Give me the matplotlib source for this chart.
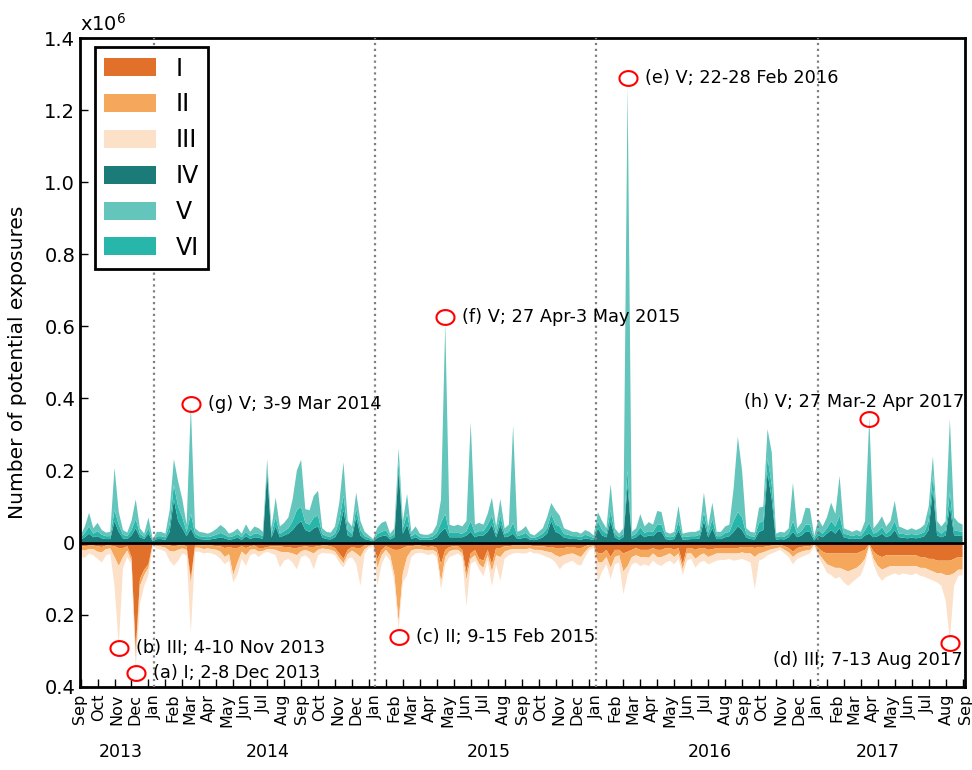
import numpy as np
import pandas as pd
import matplotlib
matplotlib.use("Agg")
import matplotlib.pyplot as plt
import matplotlib.transforms as mtransforms
from matplotlib.patches import Patch
from matplotlib.path import Path

# =========== Data (weekly, in thousands of exposures) ===========
start = "2013-09-02"
n_weeks = 209

# upper side: IV (bottom), VI, V (top)
cat_IV = [8, 15, 25, 15, 18, 12, 10, 10, 60, 30,
          12, 10, 20, 40, 15, 10, 25, 4, 10, 10,
          8, 30, 120, 60, 40, 18, 40, 15, 10, 9,
          8, 10, 12, 15, 12, 8, 10, 14, 8, 18,
          10, 15, 14, 10, 195, 14, 45, 15, 20, 25,
          35, 50, 60, 35, 30, 40, 45, 14, 10, 9,
          15, 35, 90, 20, 15, 70, 20, 10, 7, 4,
          14, 18, 20, 9, 15, 200, 25, 50, 10, 15,
          8, 8, 8, 9, 15, 30, 40, 15, 15, 15,
          15, 20, 30, 15, 20, 20, 30, 50, 15, 50,
          15, 18, 25, 10, 12, 15, 8, 7, 10, 15,
          25, 60, 30, 25, 14, 12, 10, 10, 8, 12,
          10, 7, 40, 20, 15, 60, 15, 8, 15, 160,
          10, 15, 25, 15, 20, 18, 30, 30, 10, 8,
          10, 35, 8, 9, 10, 10, 12, 60, 15, 40,
          10, 10, 15, 18, 30, 45, 35, 14, 10, 9,
          30, 35, 195, 120, 8, 10, 9, 15, 30, 15,
          20, 30, 30, 6, 20, 15, 25, 35, 25, 40,
          15, 12, 10, 12, 10, 20, 25, 15, 18, 25,
          15, 20, 35, 15, 14, 12, 14, 12, 14, 18,
          35, 148, 20, 15, 20, 100, 20, 20, 18]

cat_VI = [6, 12, 20, 10, 14, 10, 8, 8, 30, 20,
          10, 8, 15, 25, 10, 6, 15, 3, 8, 8,
          7, 20, 40, 40, 30, 12, 40, 10, 8, 8,
          7, 8, 10, 12, 10, 7, 8, 10, 7, 12,
          8, 10, 10, 8, 15, 10, 25, 10, 12, 15,
          25, 40, 40, 20, 20, 30, 30, 10, 8, 8,
          10, 25, 40, 15, 10, 25, 15, 8, 6, 3,
          10, 12, 15, 6, 10, 25, 15, 30, 8, 10,
          7, 6, 6, 8, 12, 25, 40, 12, 12, 12,
          10, 12, 30, 12, 12, 12, 20, 25, 10, 25,
          10, 12, 30, 8, 10, 12, 7, 6, 8, 10,
          15, 20, 20, 20, 10, 10, 8, 8, 7, 10,
          8, 6, 20, 15, 10, 30, 10, 7, 10, 40,
          8, 10, 18, 12, 12, 12, 20, 20, 8, 7,
          8, 25, 7, 8, 8, 8, 10, 25, 12, 25,
          8, 8, 12, 12, 30, 40, 35, 10, 8, 8,
          25, 25, 40, 40, 7, 8, 8, 10, 30, 10,
          12, 20, 20, 6, 15, 10, 15, 25, 20, 35,
          10, 10, 8, 10, 8, 15, 30, 10, 12, 18,
          10, 15, 25, 10, 10, 10, 10, 10, 10, 12,
          25, 40, 15, 10, 15, 40, 15, 12, 12]

cat_V = [6, 18, 38, 15, 23, 13, 10, 12, 118, 35,
         13, 10, 25, 55, 15, 9, 30, 3, 12, 12,
         10, 40, 72, 70, 50, 20, 300, 15, 12, 11,
         10, 12, 16, 22, 18, 10, 12, 15, 10, 21,
         12, 20, 16, 12, 22, 16, 55, 20, 23, 30,
         60, 110, 130, 38, 40, 60, 69, 16, 12, 11,
         20, 50, 93, 25, 20, 44, 25, 12, 7, 3,
         18, 25, 25, 10, 15, 37, 20, 55, 12, 20,
         10, 8, 8, 11, 23, 65, 530, 23, 19, 23,
         20, 28, 274, 23, 23, 18, 30, 50, 20, 46,
         15, 20, 270, 12, 13, 19, 10, 7, 12, 15,
         30, 30, 40, 30, 16, 13, 12, 12, 10, 13,
         12, 7, 25, 25, 15, 72, 15, 10, 15, 1070,
         12, 15, 36, 18, 25, 20, 38, 35, 12, 10,
         12, 42, 10, 11, 12, 12, 13, 54, 18, 46,
         12, 12, 18, 20, 90, 209, 130, 16, 12, 11,
         42, 40, 80, 90, 10, 12, 11, 15, 106, 15,
         23, 47, 45, 7, 30, 20, 30, 51, 35, 110,
         15, 13, 12, 13, 12, 25, 292, 15, 24, 30,
         20, 25, 56, 20, 16, 13, 16, 13, 16, 20,
         40, 52, 25, 20, 25, 203, 35, 24, 20]

# lower side: I (next to zero), II, III (outermost)
cat_I = [10, 10, 8, 8, 10, 12, 8, 8, 10, 15,
         15, 10, 40, 300, 100, 75, 60, 3, 5, 5,
         6, 8, 10, 8, 6, 10, 100, 6, 6, 8,
         8, 8, 10, 10, 15, 12, 15, 15, 10, 15,
         10, 8, 15, 15, 12, 10, 10, 10, 12, 12,
         15, 15, 12, 10, 12, 12, 10, 8, 8, 10,
         15, 30, 45, 20, 12, 15, 15, 8, 5, 3,
         46, 20, 10, 15, 20, 20, 15, 10, 10, 8,
         8, 10, 12, 10, 15, 60, 20, 12, 10, 10,
         20, 83, 30, 20, 45, 50, 20, 60, 15, 15,
         10, 10, 8, 8, 8, 8, 8, 10, 10, 10,
         12, 12, 15, 15, 15, 12, 12, 15, 15, 10,
         6, 5, 30, 30, 20, 40, 20, 20, 30, 25,
         20, 15, 20, 20, 20, 15, 20, 20, 15, 15,
         20, 15, 60, 15, 15, 20, 15, 15, 20, 18,
         15, 15, 15, 15, 15, 15, 12, 12, 12, 15,
         12, 12, 10, 8, 8, 6, 10, 15, 25, 15,
         12, 10, 10, 3, 15, 25, 30, 30, 30, 30,
         30, 30, 30, 30, 25, 20, 4, 25, 35, 40,
         35, 35, 35, 35, 35, 35, 35, 35, 40, 40,
         45, 45, 50, 50, 50, 50, 45, 40, 40]

cat_II = [10, 12, 10, 10, 15, 15, 10, 8, 30, 50,
          25, 12, 10, 25, 20, 15, 10, 3, 5, 6,
          8, 15, 15, 12, 10, 10, 15, 8, 8, 10,
          8, 10, 10, 15, 25, 20, 75, 40, 15, 20,
          10, 10, 10, 8, 6, 8, 10, 15, 15, 15,
          15, 20, 12, 10, 13, 18, 10, 8, 10, 10,
          10, 12, 12, 12, 10, 15, 25, 10, 5, 3,
          24, 15, 10, 20, 70, 200, 70, 30, 12, 10,
          10, 10, 10, 10, 12, 50, 20, 12, 10, 10,
          10, 20, 15, 15, 15, 20, 15, 20, 20, 25,
          15, 10, 10, 10, 10, 10, 8, 10, 10, 12,
          13, 15, 20, 25, 20, 20, 18, 20, 25, 15,
          7, 5, 25, 25, 20, 30, 20, 15, 50, 40,
          20, 20, 20, 20, 22, 15, 20, 20, 20, 15,
          20, 15, 15, 15, 15, 25, 20, 15, 20, 17,
          15, 15, 15, 15, 15, 15, 15, 18, 18, 25,
          18, 15, 12, 10, 8, 7, 10, 12, 15, 15,
          13, 12, 10, 3, 15, 20, 30, 35, 40, 40,
          45, 50, 45, 40, 35, 25, 3, 20, 30, 35,
          35, 30, 30, 30, 30, 30, 30, 30, 30, 30,
          30, 35, 35, 35, 40, 40, 40, 35, 35]

cat_III = [20, 20, 12, 17, 20, 28, 17, 14, 80, 220,
           30, 18, 10, 25, 50, 30, 20, 4, 8, 9,
           11, 27, 39, 30, 14, 15, 135, 11, 11, 12,
           12, 12, 15, 20, 20, 18, 20, 33, 20, 29,
           15, 12, 15, 7, 7, 12, 15, 44, 23, 18,
           25, 39, 16, 15, 20, 44, 15, 12, 12, 10,
           10, 13, 12, 13, 18, 30, 80, 12, 5, 4,
           50, 25, 15, 15, 20, 20, 25, 50, 18, 12,
           10, 10, 13, 10, 13, 20, 20, 16, 15, 10,
           10, 73, 15, 15, 14, 23, 15, 40, 25, 66,
           20, 15, 12, 10, 12, 12, 9, 10, 10, 13,
           15, 18, 20, 34, 25, 23, 20, 25, 24, 15,
           7, 5, 56, 25, 20, 31, 20, 20, 63, 25,
           20, 20, 25, 20, 23, 20, 20, 25, 20, 20,
           20, 15, 15, 20, 15, 24, 20, 20, 20, 20,
           20, 18, 18, 15, 20, 18, 18, 20, 25, 89,
           20, 18, 13, 12, 9, 7, 10, 13, 20, 15,
           15, 13, 10, 3, 10, 15, 23, 25, 30, 25,
           35, 40, 35, 30, 30, 15, 3, 15, 25, 31,
           25, 25, 20, 25, 20, 23, 25, 20, 22, 25,
           25, 25, 25, 35, 70, 180, 35, 17, 15]

legend_labels = ["I", "II", "III", "IV", "V", "VI"]
legend_colors = ["#e0702a", "#f5a85c", "#fde0c8", "#1b7b78", "#64c5bd", "#27b6a9"]

month_names = ["Jan", "Feb", "Mar", "Apr", "May", "Jun",
               "Jul", "Aug", "Sep", "Oct", "Nov", "Dec"]
years = ["2013", "2014", "2015", "2016", "2017"]
year_label_dates = ["2013-11-08", "2014-07-08", "2015-07-08", "2016-07-06", "2017-04-10"]

# peak annotations: (text, peak week start, value in 1e6, text x date, text y, align)
peaks = [
    ("(g) V; 3-9 Mar 2014", "2014-03-03", 0.385, "2014-03-31", 0.385, "left"),
    ("(f) V; 27 Apr-3 May 2015", "2015-04-27", 0.625, "2015-05-25", 0.625, "left"),
    ("(e) V; 22-28 Feb 2016", "2016-02-22", 1.29, "2016-03-21", 1.29, "left"),
    ("(h) V; 27 Mar-2 Apr 2017", "2017-03-27", 0.344, "2017-08-31", 0.39, "right"),
    ("(b) III; 4-10 Nov 2013", "2013-11-04", -0.292, "2013-12-02", -0.292, "left"),
    ("(a) I; 2-8 Dec 2013", "2013-12-02", -0.361, "2013-12-30", -0.361, "left"),
    ("(c) II; 9-15 Feb 2015", "2015-02-09", -0.261, "2015-03-09", -0.261, "left"),
    ("(d) III; 7-13 Aug 2017", "2017-08-07", -0.278, "2017-08-28", -0.325, "right"),
]

# =========== Plot ===========
plt.rcParams["font.family"] = ["DejaVu Sans"]

weeks = pd.date_range(start, periods=n_weeks, freq="7D")
upper = np.array([cat_IV, cat_VI, cat_V]) / 1000.0
lower = np.array([cat_I, cat_II, cat_III]) / 1000.0

fig = plt.figure(figsize=(9.72, 7.7), dpi=100)
ax = fig.add_axes([0.0823, 0.108, 0.9105, 0.8426])

ax.stackplot(weeks, upper, colors=[legend_colors[3], legend_colors[5], legend_colors[4]],
             linewidth=0, zorder=2)
ax.stackplot(weeks, -lower, colors=legend_colors[:3], linewidth=0, zorder=2)
ax.axhline(0, color="black", lw=2, zorder=4)

for yr in [2014, 2015, 2016, 2017]:
    ax.axvline(pd.Timestamp(f"{yr}-01-01"), color="#808080", ls=":", lw=1.6, zorder=3)

# slightly wide ellipse marker for the red rings
t = np.linspace(0, 2 * np.pi, 60)
ring = Path(np.column_stack([np.cos(t), 0.82 * np.sin(t)]))

for txt, d, val, tx, ty, ha in peaks:
    ax.plot(pd.Timestamp(d), val, marker=ring, ms=13, mfc="none", mec="red", mew=1.5,
            ls="none", zorder=5)
    ax.text(pd.Timestamp(tx), ty, txt, ha=ha, va="center", fontsize=12.8, zorder=6)

ax.set_xlim(pd.Timestamp("2013-09-01"), pd.Timestamp("2017-09-01"))
ax.set_ylim(-0.4, 1.4)

# y ticks show magnitudes on both sides
yt = np.round(np.arange(-0.4, 1.41, 0.2), 1)
ax.set_yticks(yt)
ax.set_yticklabels(["0" if v == 0 else f"{abs(v):.1f}" for v in yt], fontsize=14)
ax.set_ylabel("Number of potential exposures", fontsize=14.5)
ax.yaxis.set_label_coords(-0.06, 0.5)
ax.text(0.0, 1.005, r"x10$^6$", transform=ax.transAxes, fontsize=14, va="bottom")

# x ticks: marks every 4 weeks, month names at month starts
ax.xaxis.remove_overlapping_locs = False
ax.set_xticks(pd.date_range(start, "2017-09-01", freq="28D"))
ax.set_xticklabels([])
months = pd.date_range("2013-09-01", "2017-09-01", freq="MS")
ax.set_xticks(months, minor=True)
ax.set_xticklabels([month_names[m.month - 1] for m in months], minor=True,
                   rotation=90, fontsize=11.5)
ax.tick_params(axis="x", which="major", direction="in", length=6, width=1, top=False)
ax.tick_params(axis="x", which="minor", length=0, pad=5)
ax.tick_params(axis="y", direction="in", length=6, width=1, right=False)

trans = mtransforms.blended_transform_factory(ax.transData, ax.transAxes)
for yr, d in zip(years, year_label_dates):
    ax.text(pd.Timestamp(d), -0.1, yr, transform=trans, ha="center", va="center", fontsize=12.5)

for sp in ax.spines.values():
    sp.set_linewidth(2)

handles = [Patch(facecolor=c, edgecolor="none") for c in legend_colors]
leg = ax.legend(handles, legend_labels, loc="upper left", bbox_to_anchor=(0.017, 0.986),
                borderaxespad=0, fontsize=17, handlelength=2.2, handleheight=0.8,
                labelspacing=0.5, handletextpad=0.8, borderpad=0.4,
                fancybox=False, framealpha=1, edgecolor="black")
leg.get_frame().set_linewidth(2)

fig.savefig("out.png", dpi=100)
